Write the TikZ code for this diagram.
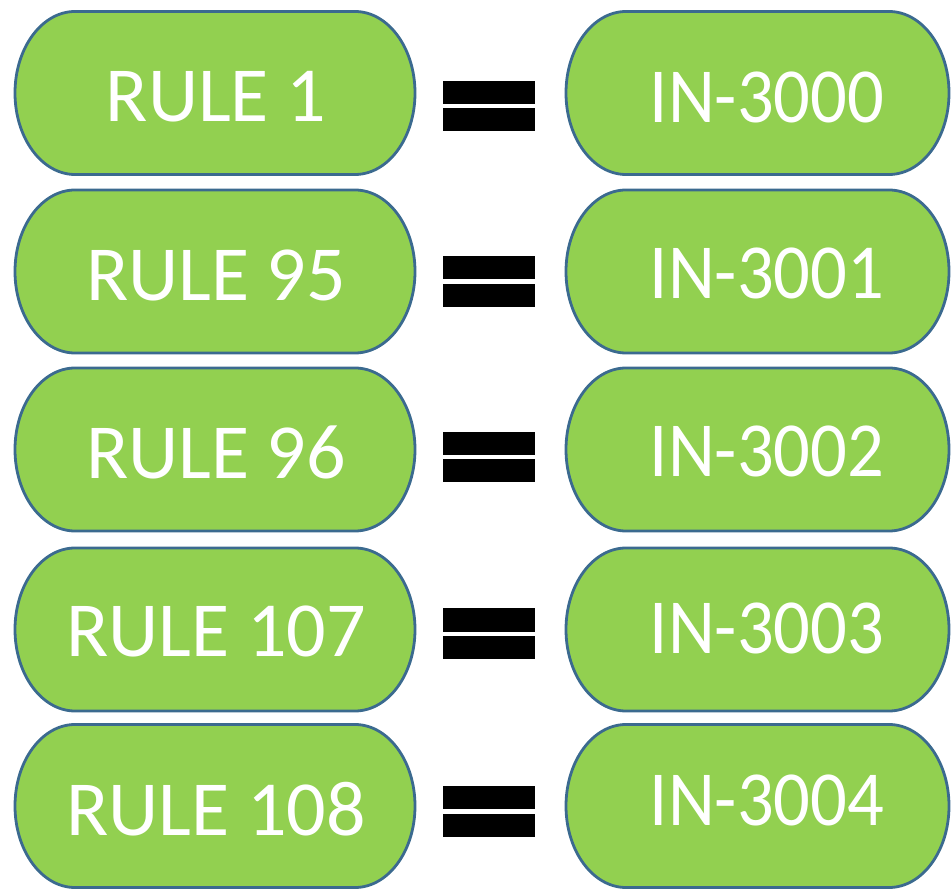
\documentclass[tikz,border=0pt]{standalone}
\usepackage{fontspec}
\setmainfont{Carlito}
\usepackage{graphicx}
\definecolor{pillgreen}{HTML}{92D050}
\definecolor{pillline}{HTML}{3B6A8F}
\tikzset{
  pill/.style={draw=pillline, line width=2.8pt, fill=pillgreen},
  lbl/.style={text=white, font=\fontsize{78}{80}\selectfont, inner sep=0pt, anchor=base},
  eqbar/.style={fill=black, draw=none, minimum width=92pt, minimum height=23pt, inner sep=0pt, anchor=center}
}
\newcommand\pillat[3]{%
  \path[pill] ({#1-#3+60},{#2+81.5}) -- ({#1+#3-60},{#2+81.5})
    arc[start angle=90,end angle=-90,x radius=60pt,y radius=81.5pt]
    -- ({#1-#3+60},{#2-81.5})
    arc[start angle=270,end angle=90,x radius=60pt,y radius=81.5pt] -- cycle;}
\newcommand\rtext[1]{\scalebox{0.93}[1]{#1}}
\begin{document}
\begin{tikzpicture}[x=1pt,y=1pt]
\useasboundingbox (0,0) rectangle (952,889);
% pills
\pillat{215}{796}{200}
\pillat{215}{617.5}{200}
\pillat{215}{439.5}{200}
\pillat{215}{259.5}{200}
\pillat{215}{83}{200}
\pillat{757.5}{796}{191.5}
\pillat{757.5}{617.5}{191.5}
\pillat{757.5}{439.5}{191.5}
\pillat{757.5}{259.5}{191.5}
\pillat{757.5}{83}{191.5}
% left labels
\node[lbl] (l1) at (216,767) {RULE 1};
\node[lbl] (l2) at (216,588.5) {RULE 95};
\node[lbl] (l3) at (216,410.5) {RULE 96};
\node[lbl] (l4) at (216,232.5) {RULE 107};
\node[lbl] (l5) at (216,54) {RULE 108};
% right labels
\node[lbl] (r1) at (767,766) {\rtext{IN-3000}};
\node[lbl] (r2) at (767,590.5) {\rtext{IN-3001}};
\node[lbl] (r3) at (767,412.5) {\rtext{IN-3002}};
\node[lbl] (r4) at (767,235.5) {\rtext{IN-3003}};
\node[lbl] (r5) at (767,64) {\rtext{IN-3004}};
% equals signs
\node[eqbar] (e1a) at (489,796.5) {};
\node[eqbar] (e1b) at (489,769.5) {};
\node[eqbar] (e2a) at (489,621) {};
\node[eqbar] (e2b) at (489,593) {};
\node[eqbar] (e3a) at (489,445.5) {};
\node[eqbar] (e3b) at (489,418) {};
\node[eqbar] (e4a) at (489,269) {};
\node[eqbar] (e4b) at (489,241.5) {};
\node[eqbar] (e5a) at (489,92) {};
\node[eqbar] (e5b) at (489,64) {};
\end{tikzpicture}
\end{document}
